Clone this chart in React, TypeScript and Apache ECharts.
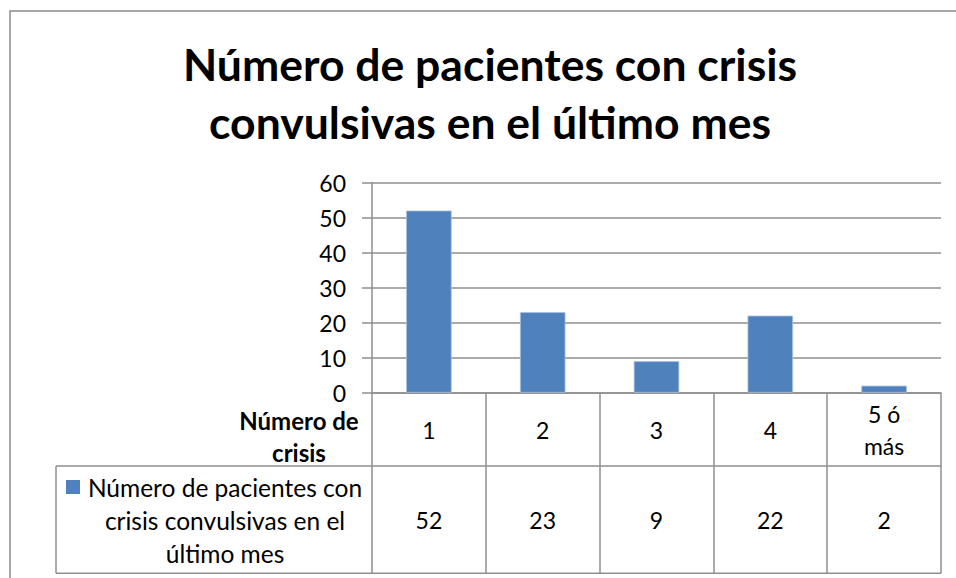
import React, { useEffect, useRef } from "react";
import * as echarts from "echarts";

const categories = ["1", "2", "3", "4", "5 ó\nmás"];
const values = [52, 23, 9, 22, 2];
const seriesName = "Número de pacientes con crisis convulsivas en el último mes";
const legendLines = ["Número de pacientes con", "crisis convulsivas en el", "último mes"];
const titleText = "Número de pacientes con crisis\nconvulsivas en el último mes";
const categoryHeader = "Número de\ncrisis";
const yMin = 0;
const yMax = 60;
const yStep = 10;

const FONT = "Lato, 'Noto Sans', sans-serif";
const BAR = "#4F81BD";
const LINE = "#8f8f8f";

export default function App() {
  const ref = useRef<HTMLDivElement>(null);
  useEffect(() => {
    if (!ref.current) return;
    const chart = echarts.init(ref.current, undefined, { renderer: "svg" });
    chart.setOption({
      animation: false,
      backgroundColor: "#ffffff",
      textStyle: { fontFamily: FONT },
      title: {
        text: titleText,
        left: 490,
        top: 34,
        textAlign: "center",
        padding: 0,
        textStyle: { fontFamily: FONT, fontWeight: "bold", fontSize: 44.5, lineHeight: 58, color: "#000" },
      },
      grid: { left: 372, right: 15, top: 182.5, bottom: 185.3, containLabel: false },
      xAxis: [
        {
          type: "category",
          data: categories,
          boundaryGap: true,
          axisLine: { show: true, lineStyle: { color: LINE, width: 1.5 } },
          axisTick: { show: true, length: 180.6, lineStyle: { color: LINE, width: 1.5 } },
          axisLabel: {
            color: "#000",
            fontFamily: FONT,
            fontSize: 23,
            lineHeight: 32,
            margin: 37,
            verticalAlign: "middle",
            interval: 0,
          },
        },
        {
          type: "category",
          data: values.map((v) => String(v)),
          position: "bottom",
          offset: 0,
          axisLine: { show: false },
          axisTick: { show: false },
          axisLabel: {
            color: "#000",
            fontFamily: FONT,
            fontSize: 23,
            margin: 127,
            verticalAlign: "middle",
            interval: 0,
          },
        },
      ],
      yAxis: {
        type: "value",
        min: yMin,
        max: yMax,
        interval: yStep,
        axisLine: { show: true, lineStyle: { color: LINE, width: 1.5 } },
        axisTick: { show: true, length: 10, lineStyle: { color: LINE, width: 1.5 } },
        axisLabel: { color: "#000", fontFamily: FONT, fontSize: 23, margin: 26 },
        splitLine: { show: true, lineStyle: { color: LINE, width: 1.5 } },
      },
      series: [
        {
          name: seriesName,
          type: "bar",
          data: values,
          barWidth: "40%",
          itemStyle: { color: BAR, borderColor: "#a9c1de", borderWidth: 0.8 },
        },
      ],
      graphic: [
        { type: "rect", shape: { x: 10, y: 11, width: 980, height: 600 }, style: { fill: "none", stroke: "#8a8a8a", lineWidth: 1.5 }, silent: true },
        { type: "line", shape: { x1: 56, y1: 466, x2: 941, y2: 466 }, style: { stroke: LINE, lineWidth: 1.5 } },
        { type: "line", shape: { x1: 56, y1: 573.3, x2: 941, y2: 573.3 }, style: { stroke: LINE, lineWidth: 1.5 } },
        { type: "line", shape: { x1: 56, y1: 466, x2: 56, y2: 573.3 }, style: { stroke: LINE, lineWidth: 1.5 } },
        { type: "rect", shape: { x: 66, y: 480, width: 14, height: 14 }, style: { fill: BAR } },
        {
          type: "text",
          x: 225,
          y: 470.5,
          style: {
            text: legendLines.join("\n"),
            fontFamily: FONT,
            fontSize: 24.5,
            lineHeight: 33,
            fill: "#000",
            textAlign: "center",
            textVerticalAlign: "top",
          },
        },
        {
          type: "text",
          x: 299,
          y: 436,
          style: {
            text: categoryHeader,
            fontFamily: FONT,
            fontSize: 24,
            fontWeight: "bold",
            lineHeight: 32,
            fill: "#000",
            textAlign: "center",
            textVerticalAlign: "middle",
          },
        },
      ],
    });
    return () => chart.dispose();
  }, []);
  return <div ref={ref} style={{ width: 956, height: 578, position: "fixed", left: 0, top: 0 }} />;
}
